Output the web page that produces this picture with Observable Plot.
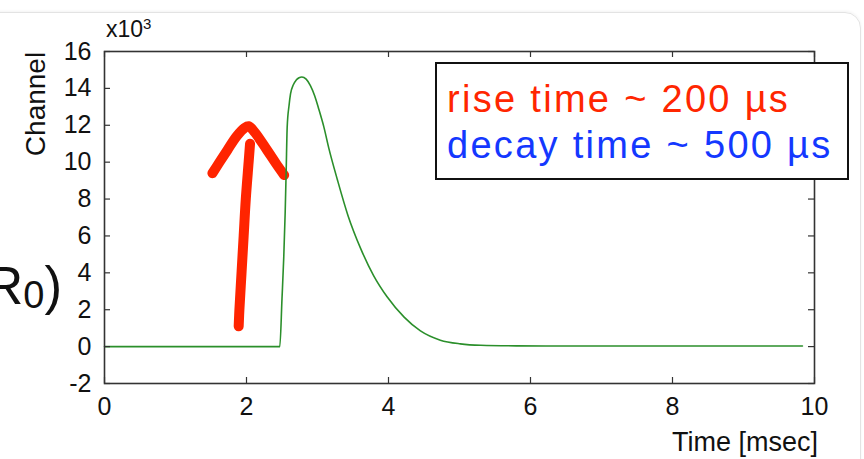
<!DOCTYPE html>
<html>
<head>
<meta charset="utf-8">
<script src="https://cdn.jsdelivr.net/npm/d3@7"></script>
<script src="https://cdn.jsdelivr.net/npm/@observablehq/plot@0.6"></script>
<style>
html, body { margin: 0; padding: 0; background: #fff; }
#wrap { position: relative; width: 864px; height: 459px; overflow: hidden; font-family: "Liberation Sans", Arial, Helvetica, sans-serif; background: #fff; }
#panel { position: absolute; left: -4px; top: 12px; width: 865px; height: 470px; box-sizing: border-box; border: 1px solid #e3e3e3; border-top-right-radius: 16px; box-shadow: 0 -1px 3px rgba(0,0,0,0.05); }
#chart { position: absolute; left: 0; top: 0; }
.lbl { position: absolute; color: #111; white-space: nowrap; line-height: 1; }
#legend { position: absolute; left: 435px; top: 62px; width: 414px; height: 118px; box-sizing: border-box; border: 2.5px solid #111; background: #fff; }
.leg { position: absolute; white-space: nowrap; line-height: 1; font-size: 38px; letter-spacing: 2.3px; }
</style>
</head>
<body>
<div id="wrap">
  <div id="panel"></div>
  <div class="lbl" style="left:-15px; top:259px; font-size:53px;">R<span style="font-size:38px; vertical-align:-4px;">0</span>)</div>
  <div id="chart"></div>
  <div class="lbl" style="left:106px; top:16px; font-size:23px;">x10<sup style="font-size:15px; vertical-align:8px;">3</sup></div>
  <div class="lbl" style="left:36px; top:104px; font-size:28px; transform: translate(-50%,-50%) rotate(-90deg);">Channel</div>
  <div class="lbl" style="right:46px; top:429px; font-size:27px;">Time [msec]</div>
  <div id="legend"></div>
  <div class="leg" style="left:447px; top:80px; color:#ff2600;">rise time ~ 200 µs</div>
  <div class="leg" style="left:447px; top:126px; color:#1438ff;">decay time ~ 500 µs</div>
</div>
<script>
// Pulse waveform: time in msec, channel in units of 10^3
const time    = [0, 1.0, 2.0, 2.469, 2.50, 2.525, 2.545, 2.559, 2.573, 2.60, 2.62, 2.66, 2.70, 2.74, 2.78, 2.84, 2.90, 2.96, 3.02, 3.09, 3.16, 3.28, 3.43, 3.61, 3.79, 3.98, 4.22, 4.45, 4.73, 5.01, 5.30, 5.80, 6.50, 8.00, 9.83];
const channel = [0, 0, 0, 0, 2.6, 4.87, 7.3, 9.57, 11.9, 13.1, 13.7, 14.2, 14.45, 14.58, 14.62, 14.5, 14.15, 13.6, 12.85, 11.9, 10.75, 9.05, 7.1, 5.3, 3.85, 2.7, 1.6, 0.85, 0.35, 0.15, 0.07, 0.04, 0.03, 0.03, 0.03];

// Hand-drawn red arrow (annotation), same axes
const arrowShaftT = [1.89, 1.90, 1.93, 1.96, 1.99, 2.03, 2.05];
const arrowShaftV = [1.1, 2.0, 4.0, 6.0, 8.0, 10.0, 11.0];
const arrowHeadT  = [1.52, 1.62, 1.73, 1.86, 1.97, 2.03, 2.12, 2.29, 2.42, 2.53];
const arrowHeadV  = [9.4, 10.0, 10.65, 11.4, 11.85, 11.95, 11.6, 10.65, 9.9, 9.3];

const xTicks = [0, 2, 4, 6, 8, 10];
const xTickLabels = ["0", "2", "4", "6", "8", "10"];
const yTicks = [-2, 0, 2, 4, 6, 8, 10, 12, 14, 16];
const yTickLabels = ["-2", "0", "2", "4", "6", "8", "10", "12", "14", "16"];

const pulse = time.map((t, i) => ({t, v: channel[i]}));
const shaft = arrowShaftT.map((t, i) => ({t, v: arrowShaftV[i]}));
const head = arrowHeadT.map((t, i) => ({t, v: arrowHeadV[i]}));

const axisColor = "#333";
const xDom = [0, 10], yDom = [-2, 16];
// inward tick length: ~6 px, expressed as a fraction of each domain
const tx = (xDom[1] - xDom[0]) * 6 / 710;
const ty = (yDom[1] - yDom[0]) * 6 / 332;
const arrowStyle = {x: "t", y: "v", stroke: "#ff2400", strokeWidth: 10, strokeLinecap: "round", strokeLinejoin: "round", curve: "catmull-rom"};

const chart = Plot.plot({
  width: 864,
  height: 459,
  marginLeft: 104,
  marginRight: 50,
  marginTop: 51,
  marginBottom: 76,
  x: {domain: xDom},
  y: {domain: yDom},
  style: {
    fontFamily: "'Liberation Sans', Arial, Helvetica, sans-serif",
    fontSize: "25px",
    color: "#111",
    background: "transparent",
    overflow: "visible"
  },
  marks: [
    Plot.line(shaft, arrowStyle),
    Plot.line(head, arrowStyle),
    Plot.line(pulse, {x: "t", y: "v", stroke: "#2b8f2b", strokeWidth: 1.6, curve: "monotone-x"}),
    // inward ticks on all four sides
    Plot.ruleX(xTicks, {x: d => d, y1: yDom[0], y2: yDom[0] + ty, stroke: axisColor, strokeWidth: 1.2}),
    Plot.ruleX(xTicks, {x: d => d, y1: yDom[1], y2: yDom[1] - ty, stroke: axisColor, strokeWidth: 1.2}),
    Plot.ruleY(yTicks, {y: d => d, x1: xDom[0], x2: xDom[0] + tx, stroke: axisColor, strokeWidth: 1.2}),
    Plot.ruleY(yTicks, {y: d => d, x1: xDom[1], x2: xDom[1] - tx, stroke: axisColor, strokeWidth: 1.2}),
    Plot.frame({stroke: axisColor, strokeWidth: 1.6}),
    Plot.axisX(xTicks, {anchor: "bottom", tickSize: 0, tickPadding: 14, label: null, tickFormat: d => xTickLabels[xTicks.indexOf(d)]}),
    Plot.axisY(yTicks, {anchor: "left", tickSize: 0, tickPadding: 13, label: null, tickFormat: d => yTickLabels[yTicks.indexOf(d)]})
  ]
});

document.getElementById("chart").appendChild(chart);
</script>
</body>
</html>
